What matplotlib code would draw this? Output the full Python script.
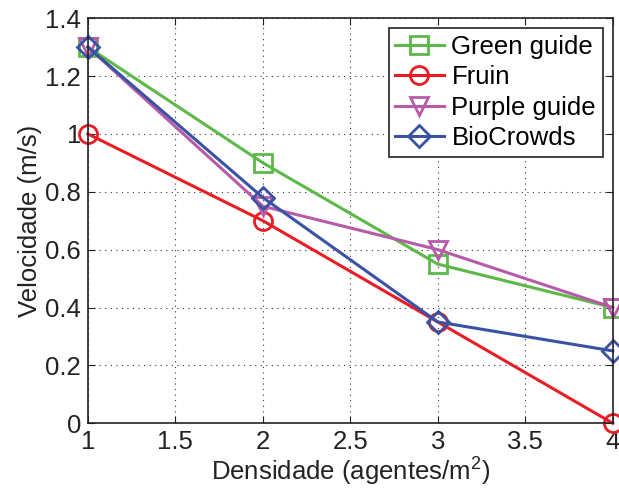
"""
Velocidade x densidade: guias vs Fruin vs BioCrowds.
"""
import matplotlib

matplotlib.use("Agg")
import matplotlib.pyplot as plt

plt.rcParams["font.family"] = ["Liberation Sans", "DejaVu Sans"]
plt.rcParams["mathtext.fontset"] = "custom"
plt.rcParams["mathtext.rm"] = "Liberation Sans"

density = [1, 2, 3, 4]
green_guide = [1.3, 0.9, 0.55, 0.4]
fruin = [1.0, 0.7, 0.35, 0.0]
purple_guide = [1.3, 0.75, 0.6, 0.4]
biocrowds = [1.3, 0.78, 0.35, 0.25]

series = [
    ("Green guide", green_guide, "#5cb947", "s"),
    ("Fruin", fruin, "#ec1c24", "o"),
    ("Purple guide", purple_guide, "#b85aaa", "v"),
    ("BioCrowds", biocrowds, "#3a52a4", "D"),
]

FS = 18.5

fig = plt.figure(figsize=(6.19, 4.91), dpi=100)
ax = fig.add_axes([0.142, 0.138, 0.848, 0.825])

for label, values, color, marker in series:
    ms = 11 if marker == "D" else 13
    ax.plot(density, values, color=color, marker=marker, markersize=ms,
            markerfacecolor="none", markeredgewidth=2, linewidth=2.2,
            label=label, clip_on=False)

ax.set_xlim(1, 4)
ax.set_ylim(0, 1.4)
ax.set_xticks([1, 1.5, 2, 2.5, 3, 3.5, 4])
ax.set_xticklabels(["1", "1.5", "2", "2.5", "3", "3.5", "4"])
ax.set_yticks([0, 0.2, 0.4, 0.6, 0.8, 1, 1.2, 1.4])
ax.set_yticklabels(["0", "0.2", "0.4", "0.6", "0.8", "1", "1.2", "1.4"])
ax.tick_params(labelsize=FS, direction="in", length=5, color="#222222",
               labelcolor="#222222", top=True, right=True, pad=5)
ax.grid(True, linestyle=(0, (1, 4)), color="#333333", linewidth=0.8)
for sp in ax.spines.values():
    sp.set_color("#222222")
    sp.set_linewidth(1.2)

ax.set_xlabel("Densidade (agentes/m$^2$)", fontsize=FS, color="#222222", labelpad=0)
ax.set_ylabel("Velocidade (m/s)", fontsize=FS, color="#222222", labelpad=2)

leg = ax.legend(loc="upper right", fontsize=FS, fancybox=False, framealpha=1,
                edgecolor="#222222", handlelength=1.9, handletextpad=0.3,
                borderpad=0.25, labelspacing=0.25, borderaxespad=0.4)
leg.get_frame().set_linewidth(1.2)

fig.savefig("out.png", dpi=100)
